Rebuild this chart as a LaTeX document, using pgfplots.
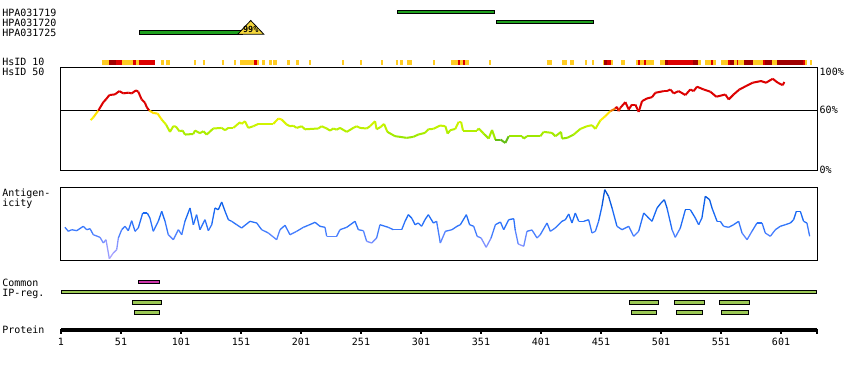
\documentclass[border=0pt]{standalone}
\usepackage{fontspec}
\usepackage{pgfplots}
\pgfplotsset{compat=1.18}
\newfontfamily\pxfont{DejaVu Sans Mono}
\newcommand\lab{\pxfont\fontsize{10}{10}\selectfont}
\newcommand\tri{\pxfont\bfseries\fontsize{8.5}{8.5}\selectfont}
\definecolor{abgreen}{RGB}{30,160,30}
\definecolor{triyel}{RGB}{245,215,60}
\definecolor{syel}{RGB}{255,204,34}
\definecolor{sred}{RGB}{221,0,0}
\definecolor{sdark}{RGB}{160,0,0}
\definecolor{ipmag}{RGB}{204,51,170}
\definecolor{ipgreen}{RGB}{155,200,85}
\begin{document}
\begin{tikzpicture}
\useasboundingbox (0,0) rectangle (850pt,370pt);
% ---------------- main canvas axis (x: residue, y: pixel rows from top)
\begin{axis}[at={(0pt,0pt)}, anchor=south west, scale only axis,
  width=850pt, height=370pt, xmin=-49.8333, xmax=658.5, ymin=0, ymax=370,
  y dir=reverse, hide axis, clip=false, unbounded coords=jump]
% antibodies
\addplot[fill=abgreen, draw=black, line width=1pt] coordinates {(281.7,10.8) (362.0,10.8) (362.0,13.8) (281.7,13.8)} --cycle;
\addplot[fill=abgreen, draw=black, line width=1pt] coordinates {(364.2,20.8) (444.5,20.8) (444.5,23.8) (364.2,23.8)} --cycle;
\addplot[fill=abgreen, draw=black, line width=1pt] coordinates {(66.4,30.8) (152.3,30.8) (152.3,34.2) (66.4,34.2)} --cycle;
\addplot[fill=triyel, draw=black, line width=0.8pt] coordinates {(148.3,34.2) (159.1,20.5) (170.0,34.2)} --cycle;
\node[anchor=base, inner sep=0pt, font=\tri] at (axis cs:159.1,32.7) {99\%};
% HsID 10 strip
\addplot[syel, line width=4.7pt] coordinates {
(34.9,62.35) (41.25,62.35) (0,nan) (51.8,62.35) (60.75,62.35) (0,nan)
(63.25,62.35) (65.75,62.35) (0,nan) (84.3,62.35) (86.8,62.35) (0,nan)
(88.5,62.35) (91.8,62.35) (0,nan) (111.8,62.35) (113.5,62.35) (0,nan)
(119.1,62.35) (120.75,62.35) (0,nan) (134.9,62.35) (136.8,62.35) (0,nan)
(145.2,62.35) (146.8,62.35) (0,nan) (150.2,62.35) (161.8,62.35) (0,nan)
(164.1,62.35) (166,62.35) (0,nan) (168.5,62.35) (171,62.35) (0,nan)
(174.6,62.35) (176.8,62.35) (0,nan) (177.9,62.35) (180.75,62.35) (0,nan)
(189.6,62.35) (191.8,62.35) (0,nan) (196.8,62.35) (199.3,62.35) (0,nan)
(207.7,62.35) (209.3,62.35) (0,nan) (235.2,62.35) (236.8,62.35) (0,nan)
(250.2,62.35) (251.8,62.35) (0,nan) (267.7,62.35) (269.3,62.35) (0,nan)
(279.9,62.35) (281.6,62.35) (0,nan) (283.5,62.35) (285.75,62.35) (0,nan)
(289.3,62.35) (293.25,62.35) (0,nan) (311,62.35) (312.7,62.35) (0,nan)
(326,62.35) (331.6,62.35) (0,nan) (333.25,62.35) (336,62.35) (0,nan)
(337.7,62.35) (341,62.35) (0,nan) (357.7,62.35) (359.3,62.35) (0,nan)
(405.7,62.35) (409.8,62.35) (0,nan) (418.5,62.35) (422.7,62.35) (0,nan)
(425.2,62.35) (428.5,62.35) (0,nan) (437.7,62.35) (439.3,62.35) (0,nan)
(443.5,62.35) (445.2,62.35) (0,nan) (452.7,62.35) (453.5,62.35) (0,nan)
(459.3,62.35) (461,62.35) (0,nan) (467.7,62.35) (471,62.35) (0,nan)
(480,62.35) (481.8,62.35) (0,nan) (483.5,62.35) (486.8,62.35) (0,nan)
(488.5,62.35) (494.9,62.35) (0,nan) (500.2,62.35) (504.3,62.35) (0,nan)
(532.1,62.35) (534.1,62.35) (0,nan) (537.7,62.35) (542.7,62.35) (0,nan)
(544.1,62.35) (546.8,62.35) (0,nan) (551,62.35) (557.1,62.35) (0,nan)
(561.8,62.35) (564.1,62.35) (0,nan) (565.4,62.35) (570.2,62.35) (0,nan)
(577.9,62.35) (586.25,62.35) (0,nan) (593.25,62.35) (597.9,62.35) (0,nan)
(620.8,62.35) (622.4,62.35) (0,nan) (625.2,62.35) (626.8,62.35)};
\addplot[sred, line width=4.7pt] coordinates {
(46.8,62.35) (51.8,62.35) (0,nan) (60.75,62.35) (63.25,62.35) (0,nan)
(65.75,62.35) (79.3,62.35) (0,nan) (161.8,62.35) (164.1,62.35) (0,nan)
(331.6,62.35) (333.25,62.35) (0,nan) (336,62.35) (337.7,62.35) (0,nan)
(455.75,62.35) (459.3,62.35) (0,nan) (481.8,62.35) (483.5,62.35) (0,nan)
(486.8,62.35) (488.5,62.35) (0,nan) (507.1,62.35) (527.9,62.35) (0,nan)
(542.7,62.35) (544.1,62.35) (0,nan) (557.1,62.35) (558.5,62.35) (0,nan)
(564.1,62.35) (565.4,62.35) (0,nan) (586.25,62.35) (587.9,62.35) (0,nan)
(619.1,62.35) (620.8,62.35)};
\addplot[sdark, line width=4.7pt] coordinates {
(41.25,62.35) (46.8,62.35) (0,nan) (453.5,62.35) (455.75,62.35) (0,nan)
(504.3,62.35) (507.1,62.35) (0,nan) (527.9,62.35) (532.1,62.35) (0,nan)
(558.5,62.35) (561.8,62.35) (0,nan) (570.2,62.35) (577.9,62.35) (0,nan)
(587.9,62.35) (593.25,62.35) (0,nan) (597.9,62.35) (619.1,62.35)};
% IP regions
\addplot[fill=ipmag, draw=black, line width=1pt] coordinates {(65.8,280.5) (82.8,280.5) (82.8,283.8) (65.8,283.8)} --cycle;
\addplot[fill=ipgreen, draw=black, line width=1pt] coordinates {(1.7,290.8) (630.3,290.8) (630.3,293.8) (1.7,293.8)} --cycle;
\addplot[fill=ipgreen, draw=black, line width=1pt] coordinates {(60.8,300.8) (84.5,300.8) (84.5,304.2) (60.8,304.2)} --cycle;
\addplot[fill=ipgreen, draw=black, line width=1pt] coordinates {(475.0,300.8) (499.2,300.8) (499.2,304.2) (475.0,304.2)} --cycle;
\addplot[fill=ipgreen, draw=black, line width=1pt] coordinates {(512.5,300.8) (537.0,300.8) (537.0,304.2) (512.5,304.2)} --cycle;
\addplot[fill=ipgreen, draw=black, line width=1pt] coordinates {(550.0,300.8) (574.5,300.8) (574.5,304.2) (550.0,304.2)} --cycle;
\addplot[fill=ipgreen, draw=black, line width=1pt] coordinates {(62.5,310.8) (82.8,310.8) (82.8,314.2) (62.5,314.2)} --cycle;
\addplot[fill=ipgreen, draw=black, line width=1pt] coordinates {(476.7,310.8) (497.0,310.8) (497.0,314.2) (476.7,314.2)} --cycle;
\addplot[fill=ipgreen, draw=black, line width=1pt] coordinates {(514.2,310.8) (535.3,310.8) (535.3,314.2) (514.2,314.2)} --cycle;
\addplot[fill=ipgreen, draw=black, line width=1pt] coordinates {(551.7,310.8) (573.7,310.8) (573.7,314.2) (551.7,314.2)} --cycle;
% protein ruler
\addplot[black, line width=3.5pt] coordinates {(1,330.2) (631,330.2)};
\addplot[black, line width=1.6pt] coordinates {
(1,328.5) (1,334.3) (0,nan) (51,328.5) (51,334.3) (0,nan) (101,328.5) (101,334.3) (0,nan)
(151,328.5) (151,334.3) (0,nan) (201,328.5) (201,334.3) (0,nan) (251,328.5) (251,334.3) (0,nan)
(301,328.5) (301,334.3) (0,nan) (351,328.5) (351,334.3) (0,nan) (401,328.5) (401,334.3) (0,nan)
(451,328.5) (451,334.3) (0,nan) (501,328.5) (501,334.3) (0,nan) (551,328.5) (551,334.3) (0,nan)
(601,328.5) (601,334.3) (0,nan) (631,328.5) (631,334.3)};
\foreach \t in {1,51,101,151,201,251,301,351,401,451,501,551,601}{
  \edef\temp{\noexpand\node[anchor=base, inner sep=0pt, font=\noexpand\lab] at (axis cs:\t,345) {\t};}
  \temp
}
\end{axis}
% ---------------- HsID 50 panel
\begin{axis}[at={(60pt,200pt)}, anchor=south west, scale only axis,
  width=757pt, height=102pt, xmin=0.1667, xmax=631, ymin=0, ymax=102.5,
  xtick=\empty, ytick=\empty, axis line style={line width=1pt},
  colormap={hsid}{[1pt] rgb255(0pt)=(80,170,20) rgb255(31pt)=(100,190,20)
    rgb255(32pt)=(150,230,0) rgb255(40pt)=(180,240,0) rgb255(48pt)=(215,245,0)
    rgb255(52pt)=(255,240,0) rgb255(60pt)=(255,215,0) rgb255(61pt)=(220,0,0)
    rgb255(100pt)=(220,0,0)},
  point meta min=0, point meta max=100]
\addplot[black, line width=1pt] coordinates {(0.1667,60) (631,60)};
\addplot[mesh, point meta=y, line width=2pt] coordinates {
(25.7,50.1) (28,53) (32.1,59.7) (36.3,68.2) (38.5,71) (41.3,75.3) (46,76) (49.6,79.3)
(52.9,77) (57.1,77.7) (59.9,77) (63.5,80) (65.4,78.7) (68.2,70.9) (71,67.5) (72.4,63.2)
(74.6,59.7) (77.9,57.3) (81.5,56.7) (84.9,50.7) (88.5,45.7) (91.8,38.3) (94.6,44)
(96.8,43.6) (99.6,39) (102.4,39.6) (104.3,35.6) (111.3,36.2) (112.7,39.6) (116.8,37)
(119.6,39) (122.4,35.6) (127.9,41.7) (134.9,42.3) (137.7,40) (140.5,42.3) (144.6,42.3)
(150.2,48) (151.5,46.3) (154.3,49) (157.1,42.3) (161.3,44) (165.4,46.3) (177.9,46.3)
(182.1,51.7) (184.9,50.7) (189,45.7) (191.8,44) (194.6,44.5) (197.4,42.3) (201.6,44)
(204.3,40.9) (215.4,41.7) (218.2,44) (222.4,41.7) (225.2,39.6) (227.9,41.7) (230.7,40.5)
(233.5,42.3) (239.1,38.3) (244.6,42.3) (247.4,44) (250.2,42.3) (255.7,41.7) (258.5,44)
(262.7,49) (264,40.9) (267.4,43.3) (270.2,46.3) (273,38.3) (279.3,34) (283.5,33.3)
(289,32.3) (294.6,33.3) (298.7,35.6) (304.3,37.3) (307.1,40.9) (311.3,41.3) (316.8,44.7)
(321.3,44) (323.2,36.6) (325.4,40) (329.6,41.3) (332.4,48.4) (334.4,48.4) (336,39.6)
(347.7,39.6) (349.1,41.7) (353.2,36.6) (357.4,31.6) (360.2,40.2) (363,30.6) (367.2,30.6)
(371.3,27.2) (374.1,33.9) (385.2,33.9) (386.6,31.6) (389.3,33.9) (400.4,33.9) (403.2,38.3)
(410.2,37.3) (413,33.9) (417.7,38.3) (418.5,31.6) (422.7,32.3) (428.2,35.6) (433.8,41.3)
(439.3,44) (443.5,45) (446.3,41.3) (450.4,49.7) (454.6,54.1) (458.8,59.1) (463,61.8)
(464.3,63.5) (465.7,59.1) (467.1,62.5) (471.3,68.2) (474.1,60.8) (476.8,65.8) (479.6,65.8)
(482.4,58.4) (485.2,69.2) (489.3,71.9) (493.5,73.2) (496.3,77.6) (503.3,79.3) (506,79.3)
(508.8,80.9) (511.6,77) (515.7,79.3) (521.3,75.3) (525.4,80.9) (528.2,79.3) (531,83.7)
(536.6,80.9) (542.1,78.7) (547.1,73.6) (554.6,75.9) (557.4,70.9) (561.5,75.9) (566.3,80.9)
(571.8,84.3) (577.4,87.7) (584.3,89.4) (588.5,87.7) (594.1,91.7) (598.3,87.7) (602.4,85.3)
(603.8,88.4)};
\end{axis}
% ---------------- Antigenicity panel
\begin{axis}[at={(60pt,110pt)}, anchor=south west, scale only axis,
  width=757pt, height=72pt, xmin=0.1667, xmax=631, ymin=0, ymax=72,
  xtick=\empty, ytick=\empty, axis line style={line width=1pt},
  colormap={agn}{[1pt] rgb255(0pt)=(180,170,255) rgb255(15pt)=(140,150,255)
    rgb255(25pt)=(80,130,255) rgb255(35pt)=(45,115,250) rgb255(50pt)=(15,100,240)
    rgb255(72pt)=(0,75,200)},
  point meta min=0, point meta max=72]
\addplot[mesh, point meta=y, line width=1.3pt] coordinates {
(4.3,32.7) (7.1,28.7) (9.9,30.3) (14.1,29.3) (19.6,33.7) (22.4,30.3) (25.2,31.3) (27.9,25.3)
(33.5,22.7) (36.3,17) (38.5,20.3) (41.3,1.3) (44.6,7) (47.4,10.3) (48.8,22) (51.6,30.3)
(54.3,33.7) (57.1,29.3) (59.9,39.3) (62.7,28.7) (65.4,32) (69.1,47) (72.9,47) (75.1,42)
(77.9,28.7) (82.1,38.7) (84.9,48.7) (87.7,38.7) (90.4,25.3) (94.6,20.3) (98.8,30.3)
(101.6,25.3) (104.3,38.7) (108.5,52) (111.3,35.3) (114,45.3) (116.8,30.3) (121,40.3)
(123.8,29.3) (126.6,35.3) (129.3,52) (132.1,50.3) (134.9,58) (137.7,48.7) (140.5,40.3)
(143.2,38.7) (147.4,35.3) (151.5,32) (154.3,34.7) (158.5,38.7) (164.1,37) (168.2,30.3)
(173.8,27) (180.7,20.3) (183.5,30.3) (187.7,34.7) (191.8,25.3) (197.4,28.7) (203,32.7)
(207.1,34.7) (212.7,37.7) (216.8,33.7) (221,32.7) (222.4,23.7) (230.7,23.7) (233.5,30.3)
(239.1,32.7) (246,38.7) (248.8,30.3) (253,29.3) (255.7,18.7) (259.9,17) (264,22)
(266.8,35.3) (273.7,32.7) (277.9,30.3) (284.9,30.3) (287.7,38.7) (290.4,45.3) (293.2,42)
(296,35.3) (298.7,37) (301.5,33.7) (304.3,40.3) (307.1,45.3) (311.3,37) (314,38.7)
(317.1,17) (321.3,28.7) (326.8,30.3) (331,33.7) (333.8,35.3) (338.8,45.3) (341.5,35.3)
(344.9,33.7) (347.8,23.7) (351.1,22) (355.3,12.7) (359.4,22) (363,35.3) (367.2,38)
(369.9,30.3) (374.1,40.3) (378.3,41.3) (379.5,30) (382,16) (386.6,13.7) (389.3,28.7)
(393.5,30) (397.7,22) (400.4,25.3) (406,37) (408.8,28.7) (412.9,32) (418.5,38.7)
(421.3,40.3) (424.1,46) (426.8,37) (429.6,47) (432.4,38.7) (436.6,38.7) (440.7,40.3)
(443.5,27) (446.3,28.7) (449,38.7) (451.8,53.7) (454.1,70.3) (457.3,63.7) (460.2,52)
(464.3,33.7) (468.5,30.3) (474.1,33.7) (478.2,23.7) (482.4,28.7) (486.6,47) (490.7,42)
(493.5,38.7) (497.7,52) (501,57) (503.8,60.3) (506,52) (510.2,30.3) (512.9,22.7)
(517.1,32) (521.3,50.3) (525.4,50.3) (529.6,42) (532.4,35.3) (535.1,42) (537.9,63.7)
(541.5,60.3) (543.5,52) (547.7,38.7) (550.4,38.7) (553.2,33.7) (557.4,32.7) (561.5,35.3)
(565.7,38.7) (568.5,27) (572.7,20.3) (576.8,28.7) (581,37) (585.2,37) (587.9,27)
(592.1,23.7) (596.3,30.3) (600.4,33.7) (604.6,35.3) (608.8,37) (611.5,40.3) (613.8,48.7)
(617.1,48.7) (619.8,38.7) (622.6,37) (624.9,23.7)};
\end{axis}
% ---------------- texts
\begin{scope}[every node/.style={anchor=base west, inner sep=0pt, font=\lab}]
\node at (2.1pt,353.3pt) {HPA031719};
\node at (2.1pt,343.3pt) {HPA031720};
\node at (2.1pt,333.7pt) {HPA031725};
\node at (2.1pt,304pt) {HsID 10};
\node at (2.1pt,294pt) {HsID 50};
\node at (2.1pt,173.3pt) {Antigen-};
\node at (2.1pt,163.3pt) {icity};
\node at (2.1pt,84pt) {Common};
\node at (2.1pt,74pt) {IP-reg.};
\node at (2.1pt,36.7pt) {Protein};
\node at (819.5pt,294pt) {100\%};
\node at (819.5pt,256pt) {60\%};
\node at (819.5pt,196.7pt) {0\%};
\end{scope}
\end{tikzpicture}
\end{document}
